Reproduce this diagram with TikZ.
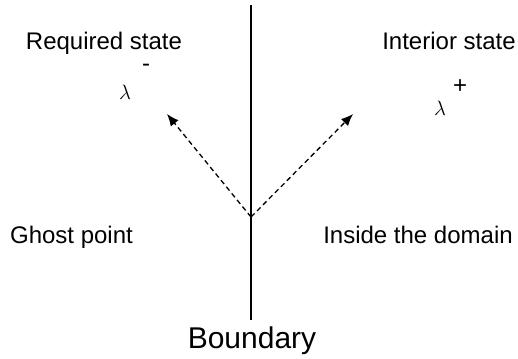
\documentclass[tikz,border=0pt]{standalone}
\usepackage{fontspec}
\setmainfont{Liberation Sans}
\usetikzlibrary{arrows.meta}
\tikzset{
  lbl/.style={inner sep=0pt, anchor=base, font=\fontsize{24}{28}\selectfont},
  sym/.style={inner sep=0pt, font=\fontsize{21}{24}\selectfont},
  sgn/.style={inner sep=0pt, font=\fontsize{24}{28}\selectfont},
  ray/.style={line width=1.3pt, dash pattern=on 5pt off 3.5pt, -{Latex[length=12pt,width=10pt]}},
}
\begin{document}
\begin{tikzpicture}[x=1pt, y=-1pt]
  \useasboundingbox (0,0) rectangle (518,358);

  % --- boundary line ---
  \coordinate (top) at (251,5);
  \coordinate (bot) at (251,320);
  \draw[line width=1.3pt] (top) -- (bot);
  \node[lbl, font=\fontsize{30}{34}\selectfont] (bnd) at (252,348) {Boundary};

  % --- ghost side (left) ---
  \node[lbl] (req) at (104,50) {Required state};
  \node[sym] (lm) at (125,92) {$\lambda$};
  \node[sgn] (lmsup) at (146,68) {-};
  \node[lbl] (ghost) at (71.5,243) {Ghost point};

  % --- interior side (right) ---
  \node[lbl] (int) at (449,50) {Interior state};
  \node[sym] (lp) at (440,108) {$\lambda$};
  \node[sgn] (lpsup) at (460,87) {+};
  \node[lbl] (inside) at (418,243) {Inside the domain};

  % --- rays from the boundary point ---
  \coordinate (o) at (251,217);
  \coordinate (tipl) at (167,114);
  \coordinate (tipr) at (353,114);
  \draw[ray] (o) -- (tipl);
  \draw[ray] (o) -- (tipr);
\end{tikzpicture}
\end{document}
